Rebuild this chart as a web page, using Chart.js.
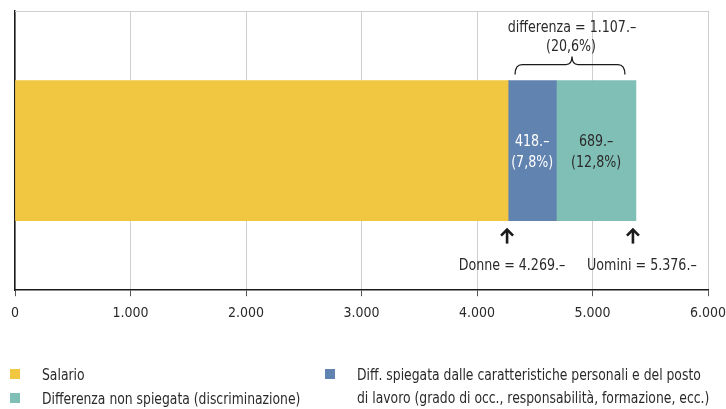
<!DOCTYPE html>
<html><head><meta charset="utf-8">
<script src="https://cdn.jsdelivr.net/npm/chart.js@4/dist/chart.umd.min.js"></script>
<style>
html,body{margin:0;padding:0;background:#fff;}
#wrap{position:relative;width:726px;height:409px;overflow:hidden;}
canvas{position:absolute;left:0;top:0;}
.leg{position:absolute;font-family:'DejaVu Sans Condensed',sans-serif;font-size:16px;color:#2a2a2a;line-height:23px;white-space:nowrap;transform:scaleX(0.86);transform-origin:0 0;}
.sq{position:absolute;width:10px;height:10px;}
</style></head>
<body><div id="wrap"><canvas id="c" width="726" height="409"></canvas>
<div class="sq" style="left:10px;top:369px;background:#F1C741"></div>
<div class="leg" style="left:42px;top:363px;">Salario</div>
<div class="sq" style="left:10px;top:393px;background:#80BFB6"></div>
<div class="leg" style="left:42px;top:387px;">Differenza non spiegata (discriminazione)</div>
<div class="sq" style="left:325px;top:369px;background:#6183B0"></div>
<div class="leg" style="left:357px;top:363px;">Diff. spiegata dalle caratteristiche personali e del posto<br>di lavoro (grado di occ., responsabilità, formazione, ecc.)</div>
</div>
<script>
const categories = [''];
const seriesNames = ['Salario', 'Diff. spiegata dalle caratteristiche personali e del posto di lavoro (grado di occ., responsabilità, formazione, ecc.)', 'Differenza non spiegata (discriminazione)'];
const salario = [4269];
const diffSpiegata = [418];
const diffNonSpiegata = [689];
const segmentLabels = [['418.–', '(7,8%)'], ['689.–', '(12,8%)']];
const diffLabel = ['differenza = 1.107.–', '(20,6%)'];
const donneLabel = 'Donne = 4.269.–';
const uominiLabel = 'Uomini = 5.376.–';
const xTicks = [0, 1000, 2000, 3000, 4000, 5000, 6000];

const FONT = "'DejaVu Sans Condensed',sans-serif";
const SX = 0.88;

function fmt(v){ return String(v).replace(/\B(?=(\d{3})+(?!\d))/g, '.'); }

const annot = {
  id: 'annot',
  afterDatasetsDraw(chart){
    const ctx = chart.ctx, x = chart.scales.x, ca = chart.chartArea;
    const bar = chart.getDatasetMeta(0).data[0];
    const top = bar.y - bar.height/2, bot = bar.y + bar.height/2;
    const x0 = x.getPixelForValue(salario[0]);
    const x1 = x.getPixelForValue(salario[0] + diffSpiegata[0]);
    const x2 = x.getPixelForValue(salario[0] + diffSpiegata[0] + diffNonSpiegata[0]);
    ctx.save();
    ctx.strokeStyle = '#cfcfcf'; ctx.lineWidth = 1;
    ctx.beginPath(); ctx.moveTo(ca.left, ca.top + 0.5); ctx.lineTo(ca.right, ca.top + 0.5); ctx.stroke();
    ctx.font = '16px ' + FONT; ctx.textAlign = 'center'; ctx.textBaseline = 'middle';
    function txt(s, tx, ty){
      ctx.save(); ctx.translate(tx, ty); ctx.scale(SX, 1); ctx.fillText(s, 0, 0); ctx.restore();
    }
    ctx.fillStyle = '#ffffff';
    txt(segmentLabels[0][0], (x0+x1)/2, bar.y - 9);
    txt(segmentLabels[0][1], (x0+x1)/2, bar.y + 12);
    ctx.fillStyle = '#2a2a2a';
    txt(segmentLabels[1][0], (x1+x2)/2, bar.y - 9);
    txt(segmentLabels[1][1], (x1+x2)/2, bar.y + 12);
    const cx = (x0+x2)/2;
    txt(diffLabel[0], cx, 28);
    txt(diffLabel[1], cx - 1, 47);
    const bl = x0 + 7, br = x2 - 11, by = top - 16, r = 7;
    ctx.strokeStyle = '#1a1a1a'; ctx.lineWidth = 1.3;
    ctx.beginPath();
    ctx.moveTo(bl, by + 10);
    ctx.quadraticCurveTo(bl, by, bl + r, by);
    ctx.lineTo(cx - 6, by);
    ctx.quadraticCurveTo(cx, by, cx, by - 8);
    ctx.quadraticCurveTo(cx, by, cx + 6, by);
    ctx.lineTo(br - r, by);
    ctx.quadraticCurveTo(br, by, br, by + 10);
    ctx.stroke();
    function arrow(ax){
      ctx.strokeStyle = '#1a1a1a'; ctx.lineWidth = 2.6;
      ctx.beginPath(); ctx.moveTo(ax, bot + 23); ctx.lineTo(ax, bot + 9); ctx.stroke();
      ctx.beginPath(); ctx.moveTo(ax - 6, bot + 15); ctx.lineTo(ax, bot + 9); ctx.lineTo(ax + 6, bot + 15); ctx.stroke();
    }
    arrow(x0 - 1); arrow(x2 - 3);
    ctx.fillStyle = '#2a2a2a';
    txt(donneLabel, x0 + 4, 266);
    txt(uominiLabel, x2 + 6, 266);
    ctx.restore();
  }
};

new Chart(document.getElementById('c'), {
  type: 'bar',
  data: {
    labels: categories,
    datasets: [
      {label: seriesNames[0], data: salario, backgroundColor: '#F1C741'},
      {label: seriesNames[1], data: diffSpiegata, backgroundColor: '#6183B0'},
      {label: seriesNames[2], data: diffNonSpiegata, backgroundColor: '#80BFB6'}
    ]
  },
  options: {
    indexAxis: 'y',
    responsive: false,
    animation: false,
    layout: {padding: {left: 15, right: 18, top: 11, bottom: 78}},
    plugins: {legend: {display: false}, tooltip: {enabled: false}},
    datasets: {bar: {barThickness: 140, borderWidth: 0}},
    scales: {
      x: {
        stacked: true, min: 0, max: 6000,
        afterBuildTicks(s){ s.ticks = xTicks.map(v => ({value: v})); },
        afterFit(s){ s.paddingLeft = 0; s.paddingRight = 0; },
        grid: {color: '#cfcfcf', tickColor: '#555', tickLength: 6, drawTicks: true},
        border: {color: '#1a1a1a', width: 1.5},
        ticks: {callback: v => fmt(v), color: '#2a2a2a', font: {family: FONT, size: 14}, padding: 9, maxRotation: 0}
      },
      y: {
        stacked: true,
        grid: {display: false, drawTicks: false},
        border: {display: true, color: '#1a1a1a', width: 1.5},
        ticks: {display: false}
      }
    }
  },
  plugins: [annot]
});
</script></body></html>
